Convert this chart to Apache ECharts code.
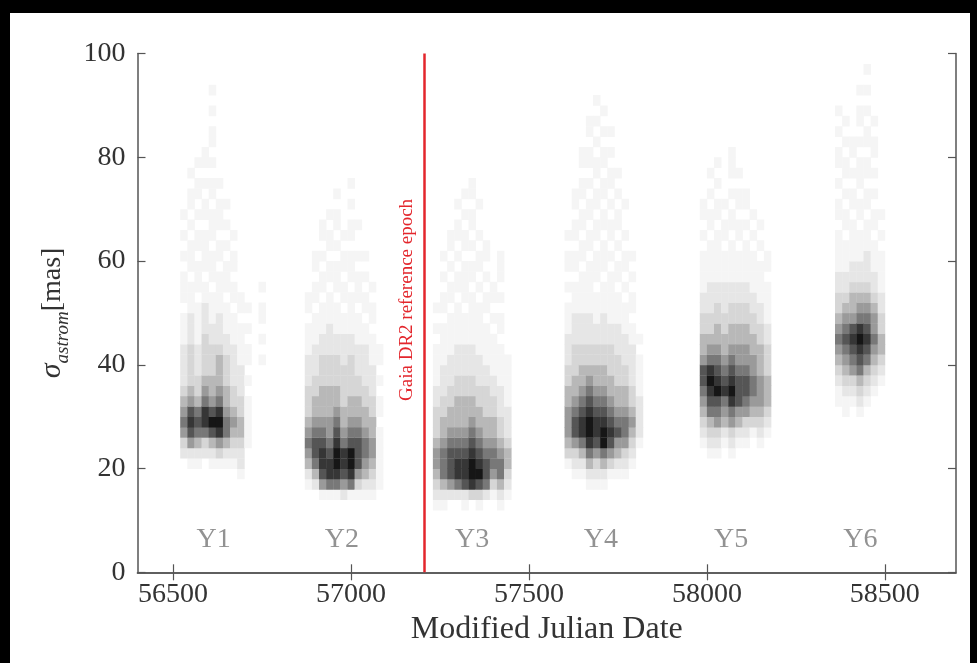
<!DOCTYPE html>
<html>
<head>
<meta charset="utf-8">
<script src="https://cdn.jsdelivr.net/npm/echarts@6/dist/echarts.min.js"></script>
<style>
  html, body { margin: 0; padding: 0; background: #000; width: 977px; height: 663px; overflow: hidden; }
  #chart { position: absolute; left: 10px; top: 13px; width: 960px; height: 650px; background: #fff; }
</style>
</head>
<body>
<div id="chart"></div>
<script>
// ---- data ----
const xTicks = [56500, 57000, 57500, 58000, 58500];
const xRange = [56400, 58700];
const yRange = [0, 100];
// histogram bins
const xBin = 20;   // days
const yBin = 2;    // mas
// first bin edge (MJD) of every observing year
const yearStarts = [56520, 56870, 57230, 57600, 57980, 58360];
// each column: density level 0-9 per 2-mas bin from 0 up to 100 mas
const year1 = [
  "0000000000 0235654322 2211101110 1010100000 0000000000",
  "0000000000 1257875433 3322211101 1101011010 0000000000",
  "0000000000 1246764332 2211110111 0110101101 0000000000",
  "0000000000 0236886543 3332221101 1110110101 1000000000",
  "0000000000 1247975443 3322111011 1011101101 0110101000",
  "0000000000 1358986544 4322211110 1101110100 0000000000",
  "0000000000 1246654433 3221110111 0101010000 0000000000",
  "0000000000 1234543322 2211101101 1010000000 0000000000",
  "0000000001 2234433222 1111011000 0000000000 0000000000",
  "0000000000 0011111010 1101010000 0000000000 0000000000",
  "0000000000 0000000000 0000000000 0000000000 0000000000",
  "0000000000 0000000000 1010110100 0000000000 0000000000"
];
const year2 = [
  "0000000012 4565433322 2111011000 0000000000 0000000000",
  "0000000024 6776544332 2211101101 1000000000 0000000000",
  "0000000157 8876544433 3221110110 1011000000 0000000000",
  "0000000168 8765544433 3222111011 0110100000 0000000000",
  "0000000168 9987654433 3221110111 0101101000 0000000000",
  "0000000257 8865443333 2221101101 1010000000 0000000000",
  "0000000168 9976544333 3221111011 1011010100 0000000000",
  "0000000135 7776544332 2211101110 1001000000 0000000000",
  "0000000124 5665443322 2211011010 1000000000 0000000000",
  "0000000123 4554433222 1110110100 0000000000 0000000000",
  "0000000011 1111011010 1100000000 0000000000 0000000000"
];
const year3 = [
  "0000001234 5543332211 1101010000 0000000000 0000000000",
  "0000001246 6654433222 1111011010 1000000000 0000000000",
  "0000000257 7765443322 2111101101 0110000000 0000000000",
  "0000000268 8765444332 2211110110 1011010000 0000000000",
  "0000001278 8765444332 2211101111 0110101000 0000000000",
  "0000000389 9876544332 2211111011 0101101100 0000000000",
  "0000001379 8765443322 2111110101 1010010000 0000000000",
  "0000000267 7654433322 1111011010 1100000000 0000000000",
  "0000000135 6654433221 1110101100 0000000000 0000000000",
  "0000001246 6543322211 1101101011 1000000000 0000000000",
  "0000000123 4432221111 1000000000 0000000000 0000000000"
];
const year4 = [
  "0000000000 1345554433 2221110101 1010000000 0000000000",
  "0000000001 2357765443 3322211101 1011011000 0000000000",
  "0000000001 2468876544 3322211110 1101101101 1000000000",
  "0000000012 4689987654 3322211111 0110110101 1011000000",
  "0000000012 3578876544 3322111011 1011011011 0101010000",
  "0000000012 4699876544 3322211101 1101101101 1010100000",
  "0000000001 3578765443 3322111110 1011010110 1010000000",
  "0000000001 2457654433 3222111011 0101101010 0000000000",
  "0000000001 2356654433 2221110101 1010010000 0000000000",
  "0000000000 1234543322 2211011010 1000000000 0000000000",
  "0000000000 0012222111 1010000000 0000000000 0000000000"
];
const year5 = [
  "0000000000 0012345677 5443322111 1010110000 0000000000",
  "0000000000 0123467898 6543322211 1101101010 0000000000",
  "0000000000 0123567987 6544332211 1110110101 0000000000",
  "0000000000 0012456876 5443322211 1011010000 0000000000",
  "0000000000 0123568987 6544332211 1101101011 1000000000",
  "0000000000 0012457776 5544332211 1011011010 0000000000",
  "0000000000 0012356776 5544332211 1101011000 0000000000",
  "0000000000 0001345665 5443322111 1010100000 0000000000",
  "0000000000 0012345554 4433221111 0101000000 0000000000",
  "0000000000 0001234443 3322111101 1000000000 0000000000"
];
const year6 = [
  "0000000000 0000001123 4565433221 1110110101 1010100000",
  "0000000000 0000011234 5676543221 1101101011 0101000000",
  "0000000000 0000001235 6787544322 1111011010 1100000000",
  "0000000000 0000012346 7898654322 1110110111 0101101000",
  "0000000000 0000001234 6787654322 2111011011 0110101010",
  "0000000000 0000000123 4565543221 1101101010 1101000000",
  "0000000000 0000000012 3443322111 1010100000 0000000000"
];
// year labels
const yearNames = ["Y1", "Y2", "Y3", "Y4", "Y5", "Y6"];
const yearLabelX = [56614, 56974, 57340, 57702, 58068, 58431];
const yearLabelY = 6.2;
// Gaia DR2 reference epoch (J2015.5)
const refEpoch = 57206;
const refEpochText = "Gaia DR2 reference epoch";

// ---- build histogram cells ----
const years = [year1, year2, year3, year4, year5, year6];
const cells = [];
years.forEach(function (cols, k) {
  cols.forEach(function (col, i) {
    const s = col.replace(/\s/g, "");
    for (let j = 0; j < s.length; j++) {
      const v = +s[j];
      if (v > 0) cells.push([yearStarts[k] + i * xBin + xBin / 2, j * yBin + yBin / 2, v]);
    }
  });
});

const serif = "'Liberation Serif', 'Times New Roman', serif";
const axisColor = "#555";
const red = "#e3262c";

const chart = echarts.init(document.getElementById("chart"), null, { renderer: "canvas" });
chart.setOption({
  animation: false,
  backgroundColor: "#fff",
  grid: { left: 127.5, top: 40.5, right: 14, bottom: 90.7 },
  visualMap: {
    show: false, seriesIndex: 0, dimension: 2, min: 1, max: 9,
    inRange: { color: ["#f5f5f5", "#d6d6d6", "#9a9a9a", "#555555", "#161616"] }
  },
  xAxis: [{
    type: "value", min: xRange[0], max: xRange[1],
    axisLine: { show: true, lineStyle: { color: axisColor, width: 1.5 } },
    axisTick: { show: true, inside: true, length: 8, customValues: xTicks, lineStyle: { color: axisColor, width: 1.2 } },
    axisLabel: { customValues: xTicks, margin: 8, fontFamily: serif, fontSize: 28, color: "#333",
      formatter: function (v) { return String(v); } },
    splitLine: { show: false },
    name: "Modified Julian Date", nameLocation: "middle", nameGap: 38,
    nameTextStyle: { fontFamily: serif, fontSize: 32, color: "#333" }
  }, {
    type: "value", min: xRange[0], max: xRange[1], position: "top",
    axisLine: { show: true, lineStyle: { color: axisColor, width: 1.5 } },
    axisTick: { show: true, inside: true, length: 8, customValues: xTicks, lineStyle: { color: axisColor, width: 1.2 } },
    axisLabel: { show: false }, splitLine: { show: false }
  }],
  yAxis: [{
    type: "value", min: yRange[0], max: yRange[1], interval: 20,
    axisLine: { show: true, lineStyle: { color: axisColor, width: 1.5 } },
    axisTick: { show: true, inside: true, length: 8, lineStyle: { color: axisColor, width: 1.2 } },
    axisLabel: { margin: 12, fontFamily: serif, fontSize: 28, color: "#333" },
    splitLine: { show: false },
    name: "{s|σ}{sub|astrom}{n|[mas]}", nameLocation: "middle", nameGap: 48, nameRotate: 90,
    nameTextStyle: {
      fontFamily: serif, color: "#333",
      rich: {
        s: { fontFamily: serif, fontStyle: "italic", fontSize: 30, color: "#333", lineHeight: 40 },
        sub: { fontFamily: serif, fontStyle: "italic", fontSize: 19, color: "#333", verticalAlign: "bottom", lineHeight: 20 },
        n: { fontFamily: serif, fontSize: 28, color: "#333", lineHeight: 40 }
      }
    }
  }, {
    type: "value", min: yRange[0], max: yRange[1], interval: 20, position: "right",
    axisLine: { show: true, lineStyle: { color: axisColor, width: 1.5 } },
    axisTick: { show: true, inside: true, length: 8, lineStyle: { color: axisColor, width: 1.2 } },
    axisLabel: { show: false }, splitLine: { show: false }
  }],
  series: [{
    type: "custom",
    clip: true,
    encode: { x: 0, y: 1 },
    data: cells,
    renderItem: function (params, api) {
      const x = api.value(0), y = api.value(1);
      const p0 = api.coord([x - xBin / 2, y + yBin / 2]);
      const p1 = api.coord([x + xBin / 2, y - yBin / 2]);
      return {
        type: "rect",
        shape: { x: p0[0], y: p0[1], width: p1[0] - p0[0] + 0.4, height: p1[1] - p0[1] + 0.4 },
        style: { fill: api.visual("color") }
      };
    },
    markLine: {
      silent: true, symbol: "none", animation: false,
      lineStyle: { color: red, width: 2.5, type: "solid" },
      label: {
        show: true, formatter: refEpochText, position: "insideMiddleTop", distance: 8,
        color: red, fontFamily: serif, fontSize: 19, padding: [0, 0, 0, 26]
      },
      data: [{ xAxis: refEpoch }]
    }
  }, {
    type: "scatter",
    symbolSize: 0,
    silent: true,
    data: yearLabelX.map(function (x, i) { return { value: [x, yearLabelY], name: yearNames[i] }; }),
    label: {
      show: true, position: "inside", formatter: "{b}",
      fontFamily: serif, fontSize: 28, color: "#777"
    }
  }]
});
</script>
</body>
</html>
